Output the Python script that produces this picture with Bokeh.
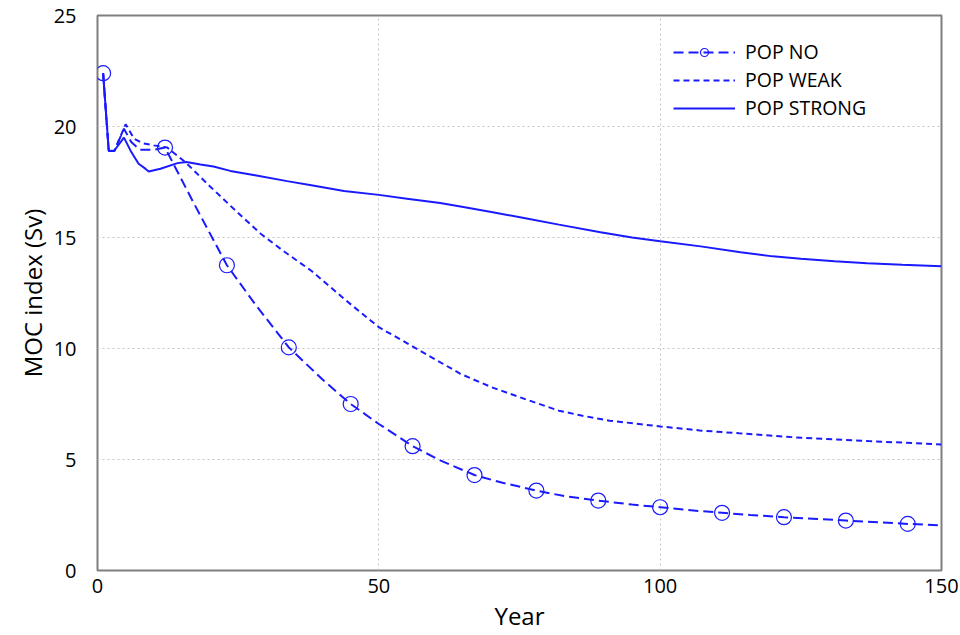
from bokeh.plotting import figure
from bokeh.models import Legend, LegendItem, Range1d
from bokeh.embed import file_html
from bokeh.resources import INLINE

# ---- data ----
no_years = [1, 2, 3, 4.7, 6, 7.5, 10, 12, 17, 23, 28, 34, 40, 45, 50, 56, 61, 67, 72, 78, 83,
            89, 95, 100, 105, 111, 116, 122, 128, 133, 139, 144, 150]
no_vals = [22.4, 18.9, 18.9, 19.9, 19.3, 18.95, 18.95, 19.05, 16.6, 13.75, 12.0, 10.05, 8.6, 7.5,
           6.6, 5.6, 4.95, 4.3, 3.95, 3.6, 3.35, 3.15, 2.97, 2.85, 2.72, 2.6, 2.5, 2.4, 2.32, 2.25,
           2.17, 2.1, 2.03]
no_marker_years = [1, 12, 23, 34, 45, 56, 67, 78, 89, 100, 111, 122, 133, 144]

weak_years = [1, 2, 3, 5, 6.5, 8, 10, 12.4, 15.6, 20, 25, 29, 33, 38, 44, 50, 57, 64.5, 70, 76,
              82, 86, 91, 100, 107, 114, 125, 137, 150]
weak_vals = [22.4, 18.9, 18.9, 20.1, 19.45, 19.25, 19.15, 19.05, 18.4, 17.3, 16.1, 15.17, 14.4,
             13.5, 12.2, 10.96, 9.95, 8.86, 8.26, 7.72, 7.2, 6.98, 6.75, 6.49, 6.31, 6.18, 5.98,
             5.83, 5.68]

strong_years = [1, 2, 3, 4.7, 5.9, 7.3, 8.5, 9.1, 11.2, 14.2, 15.8, 18.3, 20.6, 23.6, 28, 33.7,
                38, 43.8, 50, 55, 60.9, 64.5, 70, 75.8, 82, 89.4, 95, 100, 107.2, 114.3, 120,
                125, 131, 136.8, 143, 150]
strong_vals = [22.4, 18.9, 18.92, 19.5, 18.9, 18.32, 18.1, 17.97, 18.1, 18.35, 18.4, 18.29, 18.2,
               18.0, 17.8, 17.54, 17.35, 17.09, 16.92, 16.75, 16.55, 16.4, 16.15, 15.88, 15.58,
               15.24, 15.0, 14.83, 14.6, 14.34, 14.15, 14.04, 13.93, 13.84, 13.77, 13.71]

x_ticks = [0, 50, 100, 150]
y_ticks = [0, 5, 10, 15, 20, 25]

no_marker_vals = [no_vals[no_years.index(y)] for y in no_marker_years]

BLUE = "#1a1aff"
FONT = "Open Sans"

p = figure(width=960, height=635, output_backend="svg", toolbar_location=None,
           x_range=Range1d(0, 150), y_range=Range1d(0, 25),
           min_border_left=97, min_border_right=19, min_border_top=15, min_border_bottom=65)

r_no = p.line(no_years, no_vals, line_color=BLUE, line_width=2, line_dash="10 5")
r_no_m = p.scatter(no_marker_years, no_marker_vals, marker="circle", size=15,
                   fill_color=None, line_color=BLUE, line_width=1.2)
r_weak = p.line(weak_years, weak_vals, line_color=BLUE, line_width=2, line_dash="6 4")
r_strong = p.line(strong_years, strong_vals, line_color=BLUE, line_width=2)

# axes
for ax in (p.xaxis[0], p.yaxis[0]):
    ax.axis_line_color = None
    ax.major_tick_line_color = None
    ax.minor_tick_line_color = None
    ax.major_label_text_font = FONT
    ax.major_label_text_font_size = "20px"
    ax.major_label_text_color = "black"
    ax.axis_label_text_font = FONT
    ax.axis_label_text_font_size = "24px"
    ax.axis_label_text_font_style = "normal"
    ax.axis_label_text_color = "black"

p.xaxis.ticker = x_ticks
p.yaxis.ticker = y_ticks
p.xaxis.axis_label = "Year"
p.yaxis.axis_label = "MOC index (Sv)"
p.xaxis.major_label_standoff = 2
p.yaxis.major_label_standoff = 15
p.xaxis.axis_label_standoff = 3
p.yaxis.axis_label_standoff = 2

p.grid.grid_line_color = "#c4c4c4"
p.grid.grid_line_dash = "2 3"
p.grid.grid_line_width = 1

p.outline_line_color = "#7f7f7f"
p.outline_line_width = 2

legend = Legend(items=[
    LegendItem(label="POP NO", renderers=[r_no, r_no_m]),
    LegendItem(label="POP WEAK", renderers=[r_weak]),
    LegendItem(label="POP STRONG", renderers=[r_strong]),
], location=(576, 449))
legend.border_line_color = None
legend.background_fill_alpha = 0
legend.padding = 0
legend.margin = 0
legend.glyph_width = 62
legend.glyph_height = 20
legend.label_height = 20
legend.spacing = 1
legend.label_standoff = 10
legend.label_text_font = FONT
legend.label_text_font_size = "19.5px"
legend.label_text_color = "black"
p.add_layout(legend, "center")

open("out.html", "w").write(file_html(p, INLINE))
